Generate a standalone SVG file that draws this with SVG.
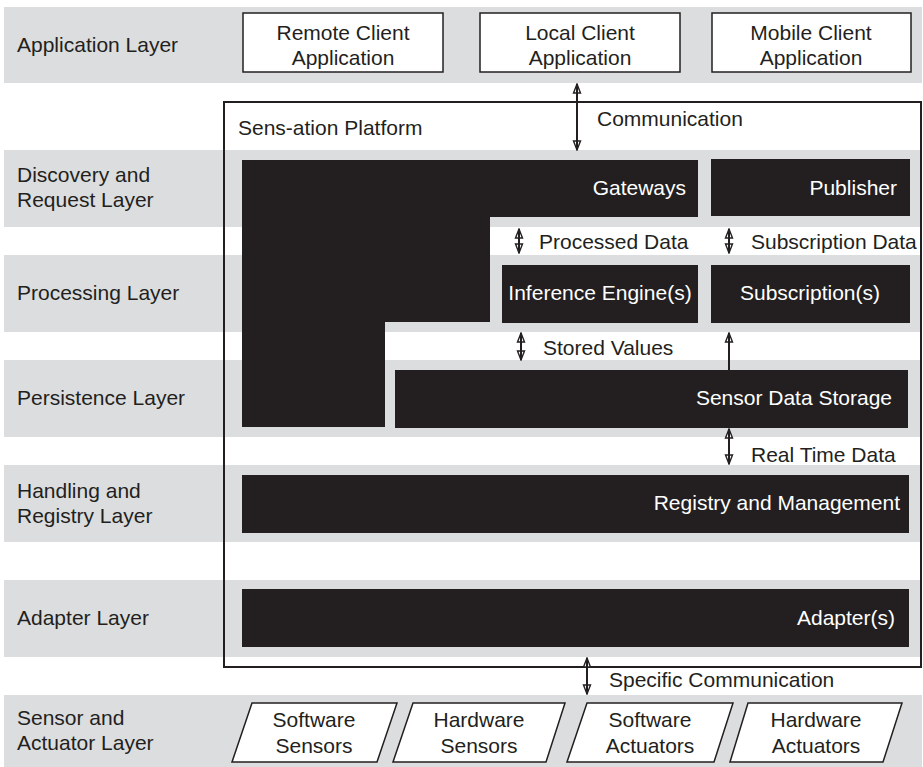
<svg xmlns="http://www.w3.org/2000/svg" width="923" height="767" viewBox="0 0 923 767">
<defs>
<style>
text{font-family:"Liberation Sans",Arial,sans-serif;font-size:21px;fill:#231f20}
.band{fill:#dcdddf}
.blk{fill:#231f20}
.wt{fill:#ffffff}
.wbox{fill:#ffffff;stroke:#231f20;stroke-width:1.5}
.para{fill:#ffffff;stroke:#231f20;stroke-width:1.5}
.conn{stroke:#231f20;stroke-width:2;fill:none}
.e{text-anchor:end}
.m{text-anchor:middle}
</style>
<marker id="ah" viewBox="-11 -5 12 10" refX="0" refY="0" markerWidth="12" markerHeight="10" markerUnits="userSpaceOnUse" orient="auto-start-reverse">
<path d="M0,0 L-9,-3.5 L-9,3.5 Z" fill="#ffffff" stroke="#231f20" stroke-width="1.4" stroke-linejoin="miter"/>
<path d="M0,0 L-10,0" stroke="#231f20" stroke-width="2"/>
</marker>
</defs>
<g id="layers">
<rect class="band" x="4" y="7" width="918" height="76"/>
<rect class="band" x="4" y="150" width="918" height="77"/>
<rect class="band" x="4" y="255" width="918" height="77"/>
<rect class="band" x="4" y="360" width="918" height="77"/>
<rect class="band" x="4" y="465" width="918" height="77"/>
<rect class="band" x="4" y="580" width="918" height="77"/>
<rect class="band" x="4" y="695" width="918" height="72"/>
<text x="17" y="52">Application Layer</text>
<text x="17" y="182">Discovery and</text>
<text x="17" y="207">Request Layer</text>
<text x="17" y="300">Processing Layer</text>
<text x="17" y="405">Persistence Layer</text>
<text x="17" y="498">Handling and</text>
<text x="17" y="523">Registry Layer</text>
<text x="17" y="625">Adapter Layer</text>
<text x="17" y="725">Sensor and</text>
<text x="17" y="750">Actuator Layer</text>
</g>
<g id="remote-client">
<rect class="wbox" x="243" y="13" width="200" height="59"/>
<text class="m" x="343" y="40">Remote Client</text>
<text class="m" x="343" y="65">Application</text>
</g>
<g id="local-client">
<rect class="wbox" x="480" y="13" width="200" height="59"/>
<text class="m" x="580" y="40">Local Client</text>
<text class="m" x="580" y="65">Application</text>
</g>
<g id="mobile-client">
<rect class="wbox" x="712" y="13" width="199" height="59"/>
<text class="m" x="811" y="40">Mobile Client</text>
<text class="m" x="811" y="65">Application</text>
</g>
<g id="platform">
<rect x="224" y="102" width="697" height="565" fill="none" stroke="#231f20" stroke-width="2"/>
<text x="238" y="135">Sens-ation Platform</text>
</g>
<g id="gateways">
<path class="blk" d="M242,160 H698 V217 H490 V322 H385 V427 H242 Z"/>
<text class="wt e" x="686" y="195">Gateways</text>
</g>
<g id="publisher">
<rect class="blk" x="711" y="159" width="199" height="57"/>
<text class="wt e" x="897" y="195">Publisher</text>
</g>
<g id="inference">
<rect class="blk" x="502" y="265" width="196" height="58"/>
<text class="wt m" x="600" y="300">Inference Engine(s)</text>
</g>
<g id="subscriptions">
<rect class="blk" x="711" y="265" width="199" height="58"/>
<text class="wt m" x="810" y="300">Subscription(s)</text>
</g>
<g id="storage">
<rect class="blk" x="395" y="370" width="513" height="58"/>
<text class="wt e" x="892" y="405">Sensor Data Storage</text>
</g>
<g id="registry">
<rect class="blk" x="242" y="475" width="667" height="58"/>
<text class="wt e" x="900" y="510">Registry and Management</text>
</g>
<g id="adapters">
<rect class="blk" x="242" y="589" width="667" height="58"/>
<text class="wt e" x="895" y="625">Adapter(s)</text>
</g>
<g id="software-sensors">
<polygon class="para" points="252,703 397,703 377,762 232,762"/>
<text class="m" x="314" y="727">Software</text>
<text class="m" x="314" y="753">Sensors</text>
</g>
<g id="hardware-sensors">
<polygon class="para" points="413,703 565,703 546,762 393,762"/>
<text class="m" x="479" y="727">Hardware</text>
<text class="m" x="479" y="753">Sensors</text>
</g>
<g id="software-actuators">
<polygon class="para" points="587,703 733,703 714,762 567,762"/>
<text class="m" x="650" y="727">Software</text>
<text class="m" x="650" y="753">Actuators</text>
</g>
<g id="hardware-actuators">
<polygon class="para" points="748,703 902,703 883,762 730,762"/>
<text class="m" x="816" y="727">Hardware</text>
<text class="m" x="816" y="753">Actuators</text>
</g>
<g id="connectors">
<line class="conn" x1="577" y1="84" x2="577" y2="150" marker-start="url(#ah)" marker-end="url(#ah)"/>
<text x="597" y="126">Communication</text>
<line class="conn" x1="519" y1="229" x2="519" y2="253" marker-start="url(#ah)" marker-end="url(#ah)"/>
<text x="539" y="249">Processed Data</text>
<line class="conn" x1="729" y1="229" x2="729" y2="253" marker-start="url(#ah)" marker-end="url(#ah)"/>
<text x="751" y="249">Subscription Data</text>
<line class="conn" x1="521" y1="333" x2="521" y2="360" marker-start="url(#ah)" marker-end="url(#ah)"/>
<text x="543" y="355">Stored Values</text>
<line class="conn" x1="729" y1="370" x2="729" y2="333" marker-end="url(#ah)"/>
<line class="conn" x1="729" y1="429" x2="729" y2="464" marker-start="url(#ah)" marker-end="url(#ah)"/>
<text x="751" y="462">Real Time Data</text>
<line class="conn" x1="587" y1="658" x2="587" y2="694" marker-start="url(#ah)" marker-end="url(#ah)"/>
<text x="609" y="687">Specific Communication</text>
</g>
</svg>
